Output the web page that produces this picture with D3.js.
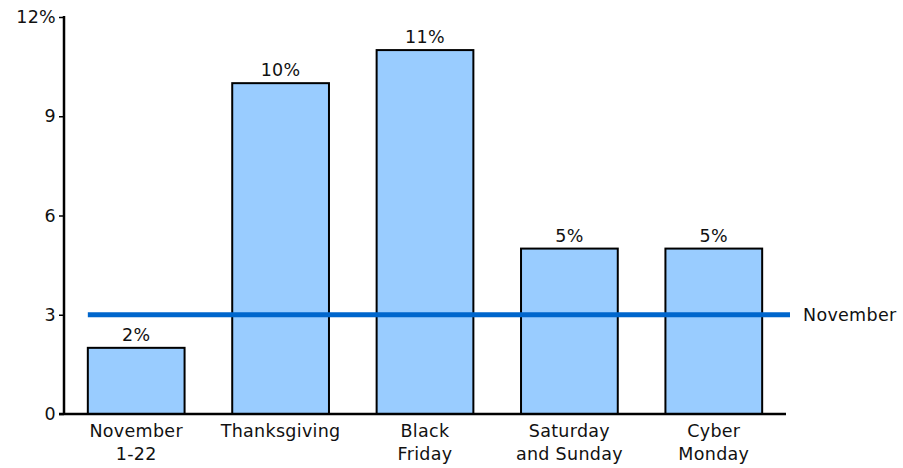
<!DOCTYPE html>
<html>
<head>
<meta charset="utf-8">
<script src="https://cdn.jsdelivr.net/npm/d3@7"></script>
<style>
  html, body { margin: 0; padding: 0; background: #fff; }
  svg { display: block; }
  text { font-family: "DejaVu Sans", Verdana, sans-serif; fill: #111; letter-spacing: 0.3px; }
</style>
</head>
<body>
<svg id="chart" width="903" height="468"></svg>
<script>
// Share of November sales by period
const categories = [["November", "1-22"], ["Thanksgiving"], ["Black", "Friday"], ["Saturday", "and Sunday"], ["Cyber", "Monday"]];
const values = [2, 10, 11, 5, 5];
const valueLabels = ["2%", "10%", "11%", "5%", "5%"];
const yTicks = [0, 3, 6, 9, 12];
const yTickLabels = ["0", "3", "6", "9", "12%"];
const novemberAverage = 3;
const novemberLabel = "November";

const svg = d3.select("#chart");
const plotLeft = 64, plotRight = 786, plotTop = 17, plotBottom = 414;
const fontSize = 17.5;

const x = d3.scaleBand()
  .domain(d3.range(values.length))
  .range([plotLeft, plotRight])
  .paddingInner(0.33)
  .paddingOuter(0.165);

const y = d3.scaleLinear().domain([0, 12]).range([plotBottom, plotTop]);

// bars
svg.append("g").selectAll("rect")
  .data(values)
  .join("rect")
  .attr("x", (d, i) => x(i))
  .attr("y", d => y(d))
  .attr("width", x.bandwidth())
  .attr("height", d => y(0) - y(d))
  .attr("fill", "#99ccff")
  .attr("stroke", "#000")
  .attr("stroke-width", 2);

// value labels
svg.append("g").selectAll("text")
  .data(values)
  .join("text")
  .attr("x", (d, i) => x(i) + x.bandwidth() / 2)
  .attr("y", d => y(d) - 7)
  .attr("text-anchor", "middle")
  .attr("font-size", fontSize)
  .text((d, i) => valueLabels[i]);

// November reference line
const lineX0 = x(0);
const lineX1 = plotRight + 4;
svg.append("line")
  .attr("x1", lineX0).attr("x2", lineX1)
  .attr("y1", y(novemberAverage)).attr("y2", y(novemberAverage))
  .attr("stroke", "#0066cc")
  .attr("stroke-width", 5);
svg.append("text")
  .attr("x", lineX1 + 13)
  .attr("y", y(novemberAverage) + 6)
  .attr("font-size", fontSize)
  .text(novemberLabel);

// y axis
const yAxis = d3.axisLeft(y)
  .tickValues(yTicks)
  .tickSize(5)
  .tickPadding(3)
  .tickFormat((d, i) => yTickLabels[i]);
const gy = svg.append("g").attr("transform", `translate(${plotLeft},0)`).call(yAxis);
gy.select(".domain").remove();
gy.selectAll(".tick line").attr("stroke", "#000").attr("stroke-width", 1.5);
gy.selectAll(".tick text")
  .attr("font-size", fontSize)
  .attr("font-family", "'DejaVu Sans', Verdana, sans-serif")
  .attr("fill", "#111");
svg.append("line")
  .attr("x1", plotLeft).attr("x2", plotLeft)
  .attr("y1", plotTop - 1).attr("y2", plotBottom + 1)
  .attr("stroke", "#000").attr("stroke-width", 2.5);

// x axis line
svg.append("line")
  .attr("x1", plotLeft - 5).attr("x2", plotRight)
  .attr("y1", plotBottom).attr("y2", plotBottom)
  .attr("stroke", "#000").attr("stroke-width", 2.5);

// category labels
const cat = svg.append("g").selectAll("text")
  .data(categories)
  .join("text")
  .attr("x", (d, i) => x(i) + x.bandwidth() / 2)
  .attr("y", 437)
  .attr("text-anchor", "middle")
  .attr("font-size", fontSize);
cat.selectAll("tspan")
  .data(d => d)
  .join("tspan")
  .attr("x", function () { return d3.select(this.parentNode).attr("x"); })
  .attr("dy", (d, i) => i === 0 ? 0 : 23)
  .text(d => d);
</script>
</body>
</html>
